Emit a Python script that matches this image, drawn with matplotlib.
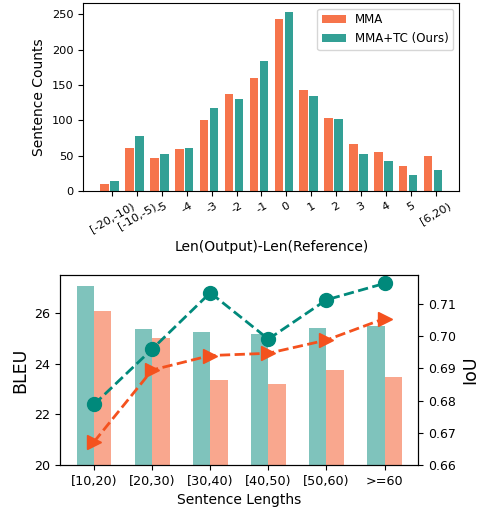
import matplotlib
matplotlib.use("Agg")
import matplotlib.pyplot as plt
import numpy as np

# ---- top chart data ----
diff_labels = ["[-20,-10)", "[-10,-5)", "-5", "-4", "-3", "-2", "-1", "0",
               "1", "2", "3", "4", "5", "[6,20)"]
mma_counts = [10, 61, 47, 59, 101, 138, 160, 243, 143, 104, 66, 55, 36, 49]
ours_counts = [14, 78, 52, 61, 117, 130, 184, 254, 134, 102, 52, 42, 23, 30]

# ---- bottom chart data ----
len_labels = ["[10,20)", "[20,30)", "[30,40)", "[40,50)", "[50,60)", ">=60"]
bleu_ours = [27.08, 25.38, 25.26, 25.18, 25.42, 25.50]
bleu_mma = [26.09, 25.02, 23.36, 23.20, 23.76, 23.48]
iou_ours = [0.6788, 0.6960, 0.7135, 0.6991, 0.7113, 0.7164]
iou_mma = [0.6672, 0.6895, 0.6940, 0.6947, 0.6988, 0.7055]

ORANGE = "#F4511E"
TEAL = "#00897B"

fig = plt.figure(figsize=(4.79, 5.08), dpi=100)

# ---------- top ----------
ax1 = fig.add_axes([0.174, 0.624, 0.785, 0.3707])
x = np.arange(len(diff_labels))
ax1.bar(x - 0.3, mma_counts, width=0.34, color=ORANGE, alpha=0.8, label="MMA")
ax1.bar(x + 0.1, ours_counts, width=0.34, color=TEAL, alpha=0.8, label="MMA+TC (Ours)")
ax1.set_xticks(x)
ax1.set_xticklabels(diff_labels, rotation=30, fontsize=8.2)
ax1.tick_params(axis="y", labelsize=8.2)
ax1.set_ylabel("Sentence Counts", fontsize=10)
ax1.set_xlabel("Len(Output)-Len(Reference)", fontsize=10)
ax1.legend(loc="upper right", fontsize=8.5)

# ---------- bottom ----------
ax2 = fig.add_axes([0.1259, 0.0846, 0.7474, 0.3740])
x2 = np.arange(len(len_labels))
ax2.bar(x2 - 0.15, bleu_ours, width=0.3, color=TEAL, alpha=0.5)
ax2.bar(x2 + 0.15, bleu_mma, width=0.3, color=ORANGE, alpha=0.5)
ax2.set_ylim(20, 27.5)
ax2.set_xticks(x2)
ax2.set_xticklabels(len_labels, fontsize=9.2)
ax2.tick_params(axis="y", labelsize=9.2)
ax2.set_ylabel("BLEU", fontsize=12.5)
ax2.set_xlabel("Sentence Lengths", fontsize=10)

ax3 = ax2.twinx()
ax3.plot(x2, iou_ours, linestyle="--", marker="o", color=TEAL, linewidth=2, markersize=10)
ax3.plot(x2, iou_mma, linestyle="--", marker=">", color=ORANGE, linewidth=2, markersize=10)
ax3.set_ylim(0.66, 0.719)
ax3.set_yticks([0.66, 0.67, 0.68, 0.69, 0.70, 0.71])
ax3.set_yticklabels(["0.66", "0.67", "0.68", "0.69", "0.70", "0.71"])
ax3.tick_params(axis="y", labelsize=9)
ax3.set_ylabel("IoU", fontsize=12.5)

fig.savefig("out.png", dpi=100)
